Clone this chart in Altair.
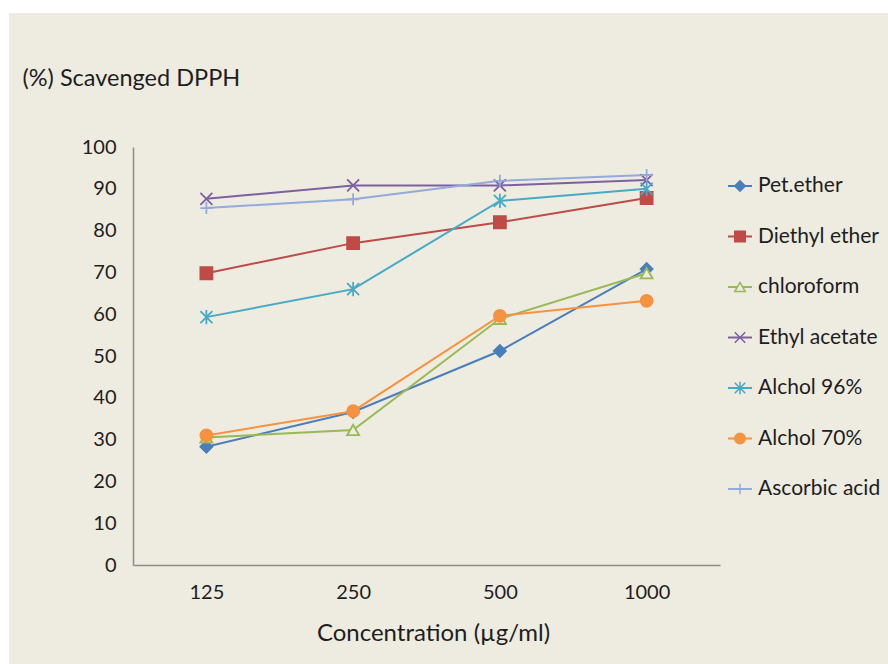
import altair as alt
import pandas as pd

# Concentrations tested (category axis)
concentrations = ["125", "250", "500", "1000"]

# Series names, in drawing / legend order
series = [
    "Pet.ether",
    "Diethyl ether",
    "chloroform",
    "Ethyl acetate",
    "Alchol 96%",
    "Alchol 70%",
    "Ascorbic acid",
]

# Percentage of DPPH scavenged at each concentration
pet_ether = [28.3, 36.6, 51.2, 70.8]
diethyl_ether = [69.8, 77.0, 82.0, 87.8]
chloroform = [30.5, 32.3, 58.9, 69.8]
ethyl_acetate = [87.6, 90.8, 90.8, 92.1]
alchol_96 = [59.3, 66.0, 87.1, 90.0]
alchol_70 = [31.0, 36.8, 59.6, 63.2]
ascorbic_acid = [85.4, 87.5, 91.9, 93.3]

values = [pet_ether, diethyl_ether, chloroform, ethyl_acetate,
          alchol_96, alchol_70, ascorbic_acid]

# Styling per series
line_colors = ["#4A7EBB", "#BE4B48", "#98B954", "#7D60A0", "#46AAC5", "#F69240", "#93AADB"]
marker_shapes = [
    "diamond",
    "square",
    "triangle-up",
    "M-1,-1L1,1M-1,1L1,-1",
    "M-1,-1L1,1M-1,1L1,-1M0,-1.2L0,1.2",
    "circle",
    "M-1,0L1,0M0,-1L0,1",
]
BG = "#EEEBE1"
marker_fills = [line_colors[0], line_colors[1], BG, "transparent",
                "transparent", line_colors[5], "transparent"]

rows = []
for name, vals in zip(series, values):
    for c, v in zip(concentrations, vals):
        rows.append({"series": name, "conc": c, "value": v})
df = pd.DataFrame(rows)
legend_df = pd.DataFrame({"series": series})

FONT = "Lato"
FS = 20
TEXT = "#1E1E1E"

color_scale = alt.Scale(domain=series, range=line_colors)
shape_scale = alt.Scale(domain=series, range=marker_shapes)
fill_scale = alt.Scale(domain=series, range=marker_fills)

x_enc = alt.X(
    "conc:O",
    sort=concentrations,
    scale=alt.Scale(type="point", padding=0.5),
    axis=alt.Axis(
        title="Concentration (µg/ml)",
        titleFont=FONT, titleFontSize=24, titleFontWeight="normal", titleColor=TEXT,
        titleX=300, titleY=68, titleAlign="center", titleBaseline="middle",
        labelAngle=0, labelFont=FONT, labelFontSize=FS, labelColor=TEXT,
        labelPadding=27, labelBaseline="middle",
        ticks=False, tickSize=0, domainColor="#8C8C8C", domainWidth=1.5,
        grid=False, zindex=1,
    ),
)
y_enc = alt.Y(
    "value:Q",
    scale=alt.Scale(domain=[0, 100], nice=False),
    axis=alt.Axis(
        title="(%) Scavenged DPPH",
        titleFont=FONT, titleFontSize=23.5, titleFontWeight="normal", titleColor=TEXT,
        titleAngle=0, titleAlign="left", titleBaseline="middle",
        titleX=-111, titleY=-69,
        values=list(range(0, 101, 10)),
        labelFont=FONT, labelFontSize=FS, labelColor=TEXT,
        labelPadding=17, labelBaseline="middle",
        ticks=False, tickSize=0, domainColor="#8C8C8C", domainWidth=1.5,
        grid=False, zindex=1,
    ),
)

background = alt.Chart(alt.Data(values=[{}])).mark_rect(color=BG).encode(
    x=alt.value(-124), x2=alt.value(755), y=alt.value(-134), y2=alt.value(517)
)

lines = alt.Chart(df).mark_line(strokeWidth=2).encode(
    x=x_enc,
    y=y_enc,
    color=alt.Color("series:N", scale=color_scale, legend=None),
    detail="series:N",
)

points = alt.Chart(df).mark_point(size=144, opacity=1, strokeWidth=1.8).encode(
    x=x_enc,
    y=y_enc,
    shape=alt.Shape("series:N", scale=shape_scale, legend=None),
    stroke=alt.Stroke("series:N", scale=color_scale, legend=None),
    fill=alt.Fill("series:N", scale=fill_scale, legend=None),
)

plot = alt.layer(lines, points)

# Hand-built legend to the right of the plot
leg_y = alt.Y("series:N", sort=series,
              scale=alt.Scale(type="point", padding=0, range=[39, 342]), axis=None)

leg_lines = alt.Chart(legend_df).mark_rule(strokeWidth=2).encode(
    x=alt.value(595), x2=alt.value(619), y=leg_y,
    color=alt.Color("series:N", scale=color_scale, legend=None),
)
leg_points = alt.Chart(legend_df).mark_point(size=110, opacity=1, strokeWidth=1.5).encode(
    x=alt.value(607), y=leg_y,
    shape=alt.Shape("series:N", scale=shape_scale, legend=None),
    stroke=alt.Stroke("series:N", scale=color_scale, legend=None),
    fill=alt.Fill("series:N", scale=fill_scale, legend=None),
)
leg_text = alt.Chart(legend_df).mark_text(
    align="left", baseline="middle", font=FONT, fontSize=21, color=TEXT
).encode(x=alt.value(625), y=leg_y, text="series:N")

legend = alt.layer(leg_lines, leg_points, leg_text)

chart = (
    alt.layer(background, plot, legend)
    .resolve_scale(y="independent")
    .properties(
        width=587,
        height=418,
        padding={"left": 133, "top": 147, "right": 168, "bottom": 99},
        autosize="none",
        background="white",
    )
    .configure_view(stroke=None)
)

chart.save("out.html", embed_options={"renderer": "svg", "actions": False})
